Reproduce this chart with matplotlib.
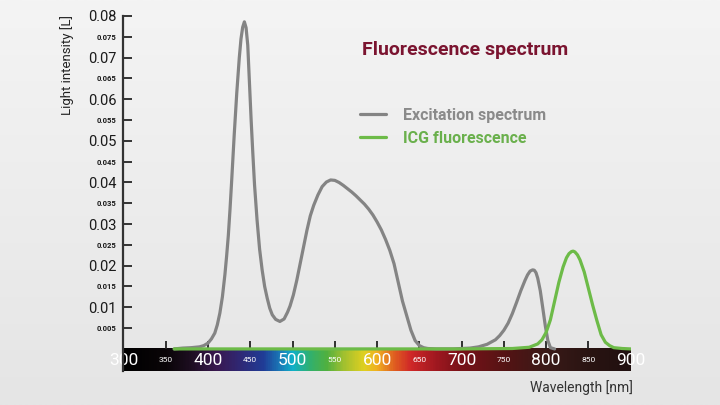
import numpy as np
import matplotlib.pyplot as plt
from matplotlib.colors import LinearSegmentedColormap

plt.rcParams['font.family'] = ['Roboto', 'DejaVu Sans']

# excitation spectrum (gray)
exc_nm = [360, 370, 380, 390, 395, 400, 404, 408, 411, 414, 417, 420, 422, 424, 426, 428,
          431, 434, 437, 439, 441, 443, 445, 447, 449, 451, 453, 455, 458, 461, 464, 467,
          470, 473, 476, 480, 485, 490, 494, 497, 501, 505, 509, 513, 517, 521, 525, 530,
          535, 540, 545, 550, 555, 560, 565, 570, 575, 580, 585, 590, 595, 600, 605, 610,
          615, 620, 625, 630, 635, 640, 645, 650, 655, 660, 670, 690, 700, 710, 720, 730,
          740, 745, 750, 755, 760, 765, 770, 775, 778, 781, 784, 786, 788, 790, 793, 796,
          799, 802, 805, 810]
exc_val = [0.0, 0.0002, 0.0003, 0.0005, 0.0008, 0.0014, 0.0024, 0.0038, 0.0058, 0.0086,
           0.0125, 0.0179, 0.0223, 0.0272, 0.0335, 0.0405,
           0.0515, 0.0615, 0.0700, 0.0745, 0.0773, 0.0786, 0.0772, 0.0730, 0.0640, 0.0550,
           0.0470, 0.0395, 0.0310, 0.0240, 0.0190, 0.0150,
           0.0122, 0.0098, 0.0082, 0.0071, 0.0066, 0.0072, 0.0088, 0.0103, 0.0130, 0.0165,
           0.0205, 0.0245, 0.0285, 0.0320, 0.0345, 0.0370,
           0.0390, 0.0401, 0.0406, 0.0405, 0.0400, 0.0393, 0.0385, 0.0377, 0.0368, 0.0358,
           0.0348, 0.0336, 0.0322, 0.0305, 0.0286, 0.0263,
           0.0237, 0.0205, 0.0160, 0.0115, 0.0080, 0.0045, 0.0020, 0.0008, 0.0003, 0.0001,
           0.0, 0.0, 0.0001, 0.0002, 0.0005, 0.0011,
           0.0022, 0.0032, 0.0045, 0.0062, 0.0085, 0.0112, 0.0140, 0.0165, 0.0178, 0.0187,
           0.0190, 0.0189, 0.0183, 0.0170, 0.0140, 0.0098,
           0.0055, 0.0020, 0.0003, 0.0]

# ICG fluorescence (green)
icg_nm = [360, 700, 760, 780, 790, 795, 800, 805, 810, 815, 820, 824, 827, 830, 832, 834,
          837, 840, 845, 850, 855, 860, 865, 870, 875, 880, 890, 900]
icg_val = [0.0, 0.0, 0.0001, 0.0004, 0.0012, 0.0022, 0.0040, 0.0070, 0.0115, 0.0160, 0.0197,
           0.0219, 0.0229, 0.0234, 0.0235, 0.0233, 0.0226, 0.0214, 0.0185, 0.0145, 0.0105,
           0.0068, 0.0034, 0.0016, 0.0008, 0.0003, 0.0001, 0.0]

x_major = [300, 400, 500, 600, 700, 800, 900]
x_minor = [350, 450, 550, 650, 750, 850]
y_major = [0.01, 0.02, 0.03, 0.04, 0.05, 0.06, 0.07, 0.08]
y_minor = [0.005, 0.015, 0.025, 0.035, 0.045, 0.055, 0.065, 0.075]

gray = '#848484'
green = '#6dbb48'

fig = plt.figure(figsize=(7.2, 4.05), dpi=100)

# background gradient
bg = fig.add_axes([0, 0, 1, 1], zorder=-10)
grad = np.linspace(0, 1, 256).reshape(-1, 1)
bg.imshow(grad, aspect='auto', cmap=LinearSegmentedColormap.from_list('bg', ['#f4f4f4', '#e5e5e5']),
          extent=[0, 1, 0, 1], origin='upper')
bg.axis('off')

ax = fig.add_axes([0.1715, 0.084, 0.7045, 0.8765])
ax.set_facecolor('none')
ax.set_xlim(300, 900)
ax.set_ylim(-0.0053, 0.08)

# rainbow wavelength bar under the zero line
spec = LinearSegmentedColormap.from_list('spec', [
    (0.0, '#000000'), (50/600, '#0a0508'), (80/600, '#1e0e22'), (110/600, '#3a1850'),
    (140/600, '#2e2a78'), (165/600, '#203c96'), (185/600, '#1a7ab8'), (200/600, '#10b0c8'),
    (220/600, '#30b070'), (240/600, '#50b040'), (260/600, '#a0c030'), (285/600, '#e0d020'),
    (300/600, '#f0b020'), (320/600, '#e06020'), (340/600, '#d02828'), (370/600, '#a01820'),
    (400/600, '#781218'), (460/600, '#501414'), (500/600, '#3a1a18'), (550/600, '#2a1412'),
    (1.0, '#201010')])
wl = np.linspace(300, 900, 600).reshape(1, -1)
ax.imshow(wl, cmap=spec, aspect='auto', extent=[300, 900, -0.0053, 0], zorder=1)

ax.plot(exc_nm, exc_val, color=gray, lw=2.3, zorder=3, label='Excitation spectrum',
        solid_capstyle='round', solid_joinstyle='round')
ax.plot(icg_nm, icg_val, color=green, lw=2.3, zorder=4, label='ICG fluorescence',
        solid_capstyle='round', solid_joinstyle='round')

for s in ['top', 'right']:
    ax.spines[s].set_visible(False)
ax.spines['bottom'].set_position(('data', 0))
ax.spines['bottom'].set_visible(False)
ax.spines['left'].set_color('#333333')
ax.spines['left'].set_linewidth(1.6)
ax.spines['left'].set_zorder(5)

ax.set_yticks(y_major)
ax.set_yticks(y_minor, minor=True)
ax.set_yticklabels([f'{v:.2f}' for v in y_major], fontsize=10.5, color='#1a1a1a')
ax.set_yticklabels([f'{v:.3f}' for v in y_minor], minor=True, fontsize=5.5,
                   color='#1a1a1a', fontweight='bold')
ax.tick_params(axis='y', which='both', direction='in', length=6.5, width=1.4,
               color='#333333', pad=5)

ax.set_xticks(x_major)
ax.set_xticks(x_minor, minor=True)
ax.set_xticklabels([str(v) for v in x_major], fontsize=12.5, color='white')
ax.set_xticklabels([str(v) for v in x_minor], minor=True, fontsize=6, color='white')
ax.tick_params(axis='x', which='both', direction='in', length=6, width=1.3,
               color='#222222', pad=8)
for lab in ax.get_xticklabels() + ax.get_xticklabels(minor=True):
    lab.set_verticalalignment('center')
ticks = ax.xaxis.get_major_ticks()
ticks[0].tick1line.set_visible(False)
ticks[-1].tick1line.set_visible(False)

fig.text(67 / 720, 1 - 15 / 405, 'Light intensity [L]', rotation=90, ha='center', va='top',
         fontsize=9.5, color='#222222')
fig.text(633 / 720, 1 - 388 / 405, 'Wavelength [nm]', ha='right', va='center',
         fontsize=10, color='#333333')
fig.text(362 / 720, 1 - 50 / 405, 'Fluorescence spectrum', ha='left', va='center',
         fontsize=14, color='#7b1430', fontweight='bold')

leg = ax.legend(loc='upper left', bbox_to_anchor=(360 / 720, 1 - 108 / 405),
                bbox_transform=fig.transFigure, frameon=False, fontsize=11.5,
                handlelength=1.6, handletextpad=1.1, labelspacing=0.5,
                borderpad=0, borderaxespad=0)
for txt, c in zip(leg.get_texts(), ['#8a8a8a', '#6ab04c']):
    txt.set_color(c)
    txt.set_fontweight('bold')

fig.savefig('out.png', dpi=100)
